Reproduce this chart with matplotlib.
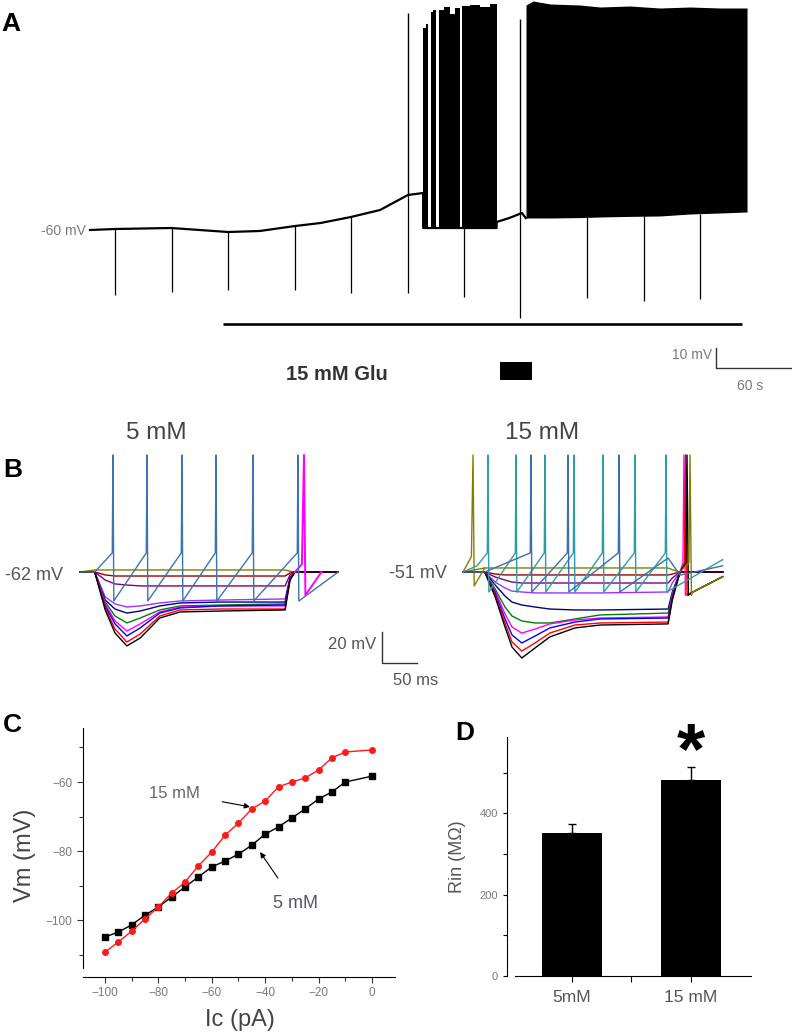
import numpy as np
import matplotlib
matplotlib.use("Agg")
import matplotlib.pyplot as plt
from matplotlib.patches import Rectangle

plt.rcParams["font.family"] = ["Liberation Sans", "DejaVu Sans"]

W, H = 792, 1034
GREY = "#555555"
LIGHT = "#7a7a7a"

# ---- panel A: slow recording (time in s, membrane potential in mV) ----
trace_t = [0, 20, 64, 109, 134, 162, 182, 206, 229, 251, 263, 263, 321, 321, 331, 341, 344]
trace_v = [-60, -59.5, -59, -61, -60.5, -58, -56.5, -53.5, -50, -42.5, -41.5, -59, -59, -56, -54, -51.5, -54]
dip_t = [19.7, 64.7, 108.9, 161.8, 206.1, 251.1, 295.3, 339.5, 392.4, 437.4, 481.6]
dip_v = [-92.5, -91, -90, -90, -91.5, -91.5, -93.5, -104, -94, -95.5, -94.5]
single_spike_t = [251.1, 339.5]
single_spike_v = [48.5, 45.5]
burst_start = [262.9, 265.3, 269.2, 270.8, 275.5, 279.5, 284.2, 288.2, 293.7, 300.0, 307.9, 315.8]
burst_end = [265.3, 266.8, 270.8, 273.2, 279.5, 284.2, 288.2, 292.1, 300.0, 307.9, 315.8, 321.3]
burst_top = [41, 43, 49, 50, 50, 51.5, 48, 51, 52, 52.5, 51.5, 53]
burst_floor = -59
dense_t = [344.2, 349.8, 363.2, 386.8, 402.6, 426.3, 450, 473.7, 497.4, 518.7]
dense_top = [52.5, 54.5, 53, 52.5, 51.5, 52, 51, 51.5, 51, 51]
dense_bot = [-54, -54, -54, -53.8, -53.5, -53.2, -53, -52, -51.5, -51]
glu_on, glu_off = 105.0, 514.7

# ---- panel B: current-clamp steps (time in ms, mV) ----
step_colors = ["#808000", "#990000", "#800080", "#9933ff", "#000080",
               "#008000", "#ff00ff", "#0000ff", "#ff0000", "#000000"]
t5 = [0, 21, 36, 50, 67, 86, 114, 143, 200, 293, 300, 307, 369]
v5_steps = [
    [-62, -60.7, -60.7, -60.7, -60.7, -60.7, -60.7, -60.7, -60.7, -60.7, -61.5, -62, -62],
    [-62, -62, -63.9, -64.6, -64.6, -64.6, -64.6, -64.6, -64.6, -64.6, -62.6, -62, -62],
    [-62, -62, -67.2, -69.7, -70.4, -71.0, -71.0, -71.0, -71.0, -71.0, -63.9, -62, -62],
    [-62, -62, -78.1, -82.6, -84.6, -83.9, -82.0, -80.7, -80.1, -79.4, -65.9, -62, -62],
    [-62, -62, -80.1, -85.9, -88.5, -87.2, -83.9, -82.0, -81.4, -81.4, -65.9, -62, -62],
    [-62, -62, -81.4, -90.4, -94.9, -91.7, -86.5, -83.9, -83.3, -82.6, -66.5, -62, -62],
    [-62, -62, -82.6, -93.6, -100.1, -95.5, -87.8, -84.6, -83.9, -83.9, -66.5, -62, -62],
    [-62, -62, -83.9, -95.5, -103.3, -98.1, -88.5, -85.2, -83.9, -83.3, -66.5, -62, -62],
    [-62, -62, -85.2, -98.8, -107.2, -102.0, -90.4, -86.5, -85.9, -85.9, -67.2, -62, -62],
    [-62, -62, -86.5, -101.4, -109.7, -104.6, -91.7, -87.8, -87.2, -86.5, -67.2, -62, -62],
]
spikes5 = [47.1, 95.7, 145.7, 194.3, 247.1, 311.4]
rebound5_t = [307, 317, 320, 322, 345]
rebound5_v = [-62, -57, 13.5, -77, -62]

t15 = [0, 31, 46, 60, 70, 84, 103, 124, 160, 196, 293, 299, 310, 371]
v15_steps = [
    [-51, -48.4, -48.4, -48.4, -48.4, -48.4, -48.4, -48.4, -48.4, -48.4, -48.4, -49.5, -51, -51],
    [-51, -51, -52.3, -52.9, -52.9, -52.9, -52.9, -52.9, -52.9, -52.9, -52.9, -52.3, -51, -51],
    [-51, -51, -54.2, -56.2, -57.5, -58.1, -58.1, -58.1, -58.1, -58.1, -58.1, -54.9, -51, -51],
    [-51, -51, -57.5, -61.3, -63.3, -63.9, -64.5, -64.5, -64.5, -64.5, -63.9, -58.1, -51, -51],
    [-51, -51, -59.4, -66.5, -70.4, -72.3, -73.6, -74.9, -75.5, -75.5, -74.9, -63.9, -51, -51],
    [-51, -51, -62.0, -73.6, -79.4, -82.6, -83.9, -83.9, -81.3, -78.7, -77.5, -65.2, -51, -51],
    [-51, -51, -63.3, -78.1, -86.5, -90.4, -87.8, -84.5, -82.0, -80.7, -80.0, -66.5, -51, -51],
    [-51, -51, -64.5, -81.3, -91.6, -96.8, -92.3, -87.1, -83.3, -81.3, -80.7, -67.1, -51, -51],
    [-51, -51, -65.8, -83.9, -96.2, -102.0, -96.8, -90.4, -85.2, -83.9, -83.3, -68.4, -51, -51],
    [-51, -51, -67.1, -86.5, -99.4, -106.5, -100.0, -92.9, -87.1, -85.2, -84.5, -69.1, -51, -51],
]
spikes15_teal = [35.7, 75.7, 117.1, 158.6, 200, 245.7, 290]
spikes15_blue = [97.1, 150, 222.9]
olive15_t = [0, 12, 14.3, 16, 31]
olive15_v = [-51, -41, 24.5, -60, -48.4]
rebound15_t = [315.7, 318, 320, 324.3]
rebound15_colors = ["#ff00ff", "#ff0000", "#000000", "#808000"]

# ---- panel C: I-V relation ----
ic_pA = [0, -10, -15, -20, -25, -30, -35, -40, -45, -50,
         -55, -60, -65, -70, -75, -80, -85, -90, -95, -100]
vm_15mM = [-50.7, -51.3, -53.0, -56.5, -58.8, -60.0, -61.4, -65.5, -67.8, -71.9,
           -75.4, -80.3, -84.3, -89.0, -92.2, -96.2, -99.7, -103.2, -106.4, -109.3]
vm_5mM = [-58.3, -60.0, -62.9, -64.9, -67.8, -70.4, -73.0, -75.1, -78.3, -80.9,
          -82.9, -84.6, -87.5, -90.4, -93.3, -96.2, -98.6, -101.4, -103.5, -104.9]

# ---- panel D: input resistance ----
rin_groups = ["5mM", "15 mM"]
rin_mean = [353, 481]
rin_sem = [22, 32]


def px_axes(fig, x0, y0, x1, y1):
    """Axes placed by pixel box of the 792x1034 canvas (y from top)."""
    return fig.add_axes([x0 / W, 1 - y1 / H, (x1 - x0) / W, (y1 - y0) / H])


def spike_train(head_t, head_v, times, thr, peak, ahp, tail_t, tail_v):
    t, v = list(head_t), list(head_v)
    for s in times:
        t += [s - 1.0, s, s + 1.2]
        v += [thr, peak, ahp]
    return t + list(tail_t), v + list(tail_v)


fig = plt.figure(figsize=(W / 100, H / 100), dpi=100)

# ================= A =================
axA = px_axes(fig, 0, 0, 792, 410)
axA.set_xlim(-71.05, 554.2)
axA.set_ylim(-150, 55)
axA.axis("off")

floor_t = trace_t + dense_t
floor_v = trace_v + dense_bot
axA.plot(trace_t, trace_v, color="k", lw=1.6)
axA.vlines(dip_t, dip_v, np.interp(dip_t, floor_t, floor_v), color="k", lw=0.9)
axA.vlines(single_spike_t, np.interp(single_spike_t, floor_t, floor_v),
           single_spike_v, color="k", lw=1.0)
axA.bar(burst_start, np.array(burst_top) - burst_floor,
        width=np.array(burst_end) - np.array(burst_start),
        bottom=burst_floor, align="edge", color="k", lw=0)
axA.fill_between(dense_t, dense_bot, dense_top, color="k", lw=0)
axA.hlines(-107, glu_on, glu_off, color="k", lw=1.9)

axA.text(-3.2, -60.5, "-60 mV", ha="right", va="center", fontsize=10, color=LIGHT)
axA.text(195, -132, "15 mM Glu", ha="center", va="center", fontsize=14.5,
         fontweight="bold", color="#333333")
axA.add_patch(Rectangle((323.7, -135), 25.3, 9, color="k", lw=0))
axA.plot([494.2, 494.2, 554.2], [-119, -129, -129], color="#333333", lw=1.0,
         clip_on=False)
axA.text(491, -122.5, "10 mV", ha="right", va="center", fontsize=10, color=LIGHT)
axA.text(521, -138, "60 s", ha="center", va="center", fontsize=10, color=LIGHT)

# ================= B, 5 mM =================
axB1 = px_axes(fig, 0, 400, 460, 700)
axB1.set_xlim(-114.3, 542.9)
axB1.set_ylim(-144.6, 48.97)
axB1.axis("off")
for vals, col in zip(v5_steps, step_colors):
    axB1.plot(t5, vals, color=col, lw=1.0)
axB1.plot(rebound5_t, rebound5_v, color="#ff00ff", lw=1.4)
bt, bv = spike_train([0, 21], [-62, -62], spikes5, -49.7, 13.5, -80.7, [369], [-62])
axB1.plot(bt, bv, color="#3d73b3", lw=1.0)

axB1.text(-24, -64, "-62 mV", ha="right", va="center", fontsize=13, color=GREY)
axB1.text(108.6, 27.7, "5 mM", ha="center", va="center", fontsize=17.5, color="#444444")
axB1.plot([431.4, 431.4, 481.4], [-100.7, -120.7, -120.7], color="#333333", lw=1.0)
axB1.text(423, -109, "20 mV", ha="right", va="center", fontsize=12, color=GREY)
axB1.text(480, -131.7, "50 ms", ha="center", va="center", fontsize=12, color=GREY)

# ================= B, 15 mM =================
axB2 = px_axes(fig, 460, 400, 792, 700)
axB2.set_xlim(-4.29, 470)
axB2.set_ylim(-133.6, 60.0)
axB2.axis("off")
for vals, col in zip(v15_steps, step_colors):
    axB2.plot(t15, vals, color=col, lw=1.0)
axB2.plot(olive15_t, olive15_v, color="#808000", lw=1.0)
for s, col in zip(rebound15_t, rebound15_colors):
    axB2.plot([310, s - 1.5, s, s + 2, 328, 371], [-51, -45, 24.5, -66, -64, -54],
              color=col, lw=1.0)
tt, tv = spike_train([0, 20], [-51, -47], spikes15_teal, -38.7, 24.5, -63.9, [371], [-43])
axB2.plot(tt, tv, color="#2e9ea5", lw=1.0)
st, sv = spike_train([0, 31], [-51, -51], spikes15_blue, -38.7, 24.5, -63.9,
                     [293, 310, 371], [-42, -53, -47])
axB2.plot(st, sv, color="#3d6fb0", lw=1.0)

axB2.text(-22.9, -52, "-51 mV", ha="right", va="center", fontsize=13, color=GREY)
axB2.text(112.9, 38.7, "15 mM", ha="center", va="center", fontsize=17.5, color="#444444")

# ================= C =================
axC = px_axes(fig, 83, 728, 395, 977)
axC.plot(ic_pA, vm_5mM, color="k", marker="s", ms=4, lw=1.0)
axC.plot(ic_pA, vm_15mM, color="#ff1a1a", marker="o", ms=4, lw=1.0)
axC.set_xlim(-108.2, 8.6)
axC.set_ylim(-116.5, -44.35)
for side in ("top", "right"):
    axC.spines[side].set_visible(False)
axC.spines["left"].set_bounds(-113.9, -44.35)
axC.set_xticks([-100, -80, -60, -40, -20, 0])
axC.set_xticks([-90, -70, -50, -30, -10], minor=True)
axC.set_yticks([-100, -80, -60])
axC.set_yticks([-110, -90, -70, -50], minor=True)
axC.tick_params(which="both", direction="out", length=4, width=0.8,
                labelsize=8.5, labelcolor=LIGHT, color="#333333")
axC.tick_params(which="minor", length=3)
axC.set_xlabel("Ic (pA)", fontsize=17, color="#444444")
axC.xaxis.set_label_coords(0.503, -0.13)
axC.set_ylabel("Vm (mV)", fontsize=17, color="#444444")
axC.yaxis.set_label_coords(-0.15, 0.49)
axC.annotate("15 mM", xy=(-45.7, -67.2), xytext=(-73.8, -63.2),
             ha="center", va="center", fontsize=12, color="#666666",
             arrowprops=dict(arrowstyle="-|>", color="k", lw=0.8,
                             mutation_scale=8, shrinkA=14, shrinkB=0))
axC.annotate("5 mM", xy=(-41.9, -80.3), xytext=(-28.8, -95.1),
             ha="center", va="center", fontsize=13, color="#5a5470",
             arrowprops=dict(arrowstyle="-|>", color="k", lw=0.8,
                             mutation_scale=8, shrinkA=12, shrinkB=0))

# ================= D =================
axD = px_axes(fig, 507, 737, 751, 976)
xpos = np.arange(1, len(rin_mean) + 1)
axD.bar(xpos, rin_mean, width=0.51, color="k",
        yerr=[np.zeros(len(rin_sem)), rin_sem],
        error_kw=dict(ecolor="k", elinewidth=1.0, capsize=3, capthick=1.0))
axD.set_xlim(0.454, 2.504)
axD.set_ylim(0, 588)
for side in ("top", "right"):
    axD.spines[side].set_visible(False)
axD.spines["bottom"].set_bounds(0.52, 2.504)
axD.set_xticks(xpos)
axD.set_xticklabels(rin_groups)
axD.set_xticks([1.5], minor=True)
axD.set_yticks([0, 200, 400])
axD.set_yticks([100, 300, 500], minor=True)
axD.tick_params(axis="y", which="both", direction="out", length=3, width=0.8,
                labelsize=8, labelcolor=LIGHT)
axD.tick_params(axis="x", which="both", direction="out", length=4, width=0.8,
                labelsize=12.5, labelcolor=GREY, pad=6)
axD.set_ylabel("Rin (MΩ)", fontsize=13, color=GREY)
axD.yaxis.set_label_coords(-0.17, 0.5)
axD.text(2, 545, "*", ha="center", va="center", fontsize=52, fontweight="bold",
         color="k", clip_on=False)

# panel letters
for letter, (x, y) in {"A": (1, 24), "B": (3, 470), "C": (3, 725), "D": (455, 733)}.items():
    fig.text(x / W, 1 - y / H, letter, ha="left", va="center", fontsize=19,
             fontweight="bold")

fig.savefig("out.png", dpi=100)
